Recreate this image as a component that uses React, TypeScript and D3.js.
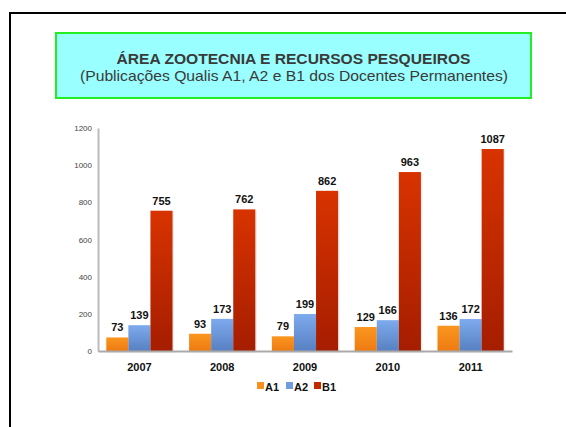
import React, { useEffect, useRef } from 'react';
import * as d3 from 'd3';

const years = ['2007', '2008', '2009', '2010', '2011'];
const seriesNames = ['A1', 'A2', 'B1'];
const a1Values = [73, 93, 79, 129, 136];
const a2Values = [139, 173, 199, 166, 172];
const b1Values = [755, 762, 862, 963, 1087];
const yTicks = [0, 200, 400, 600, 800, 1000, 1200];

const gradients = [
  { id: 'gA1', top: '#fb961f', bottom: '#ee7a12' },
  { id: 'gA2', top: '#7dabee', bottom: '#5880c2' },
  { id: 'gB1', top: '#d83300', bottom: '#a51d00' },
];
const legendColors = ['#f7901d', '#6f9ce0', '#c42a00'];

export default function App() {
  const ref = useRef<SVGSVGElement>(null);

  useEffect(() => {
    const svg = d3.select(ref.current);
    svg.selectAll('*').remove();

    const defs = svg.append('defs');
    gradients.forEach((g) => {
      const lg = defs
        .append('linearGradient')
        .attr('id', g.id)
        .attr('x1', 0)
        .attr('y1', 0)
        .attr('x2', 0)
        .attr('y2', 1);
      lg.append('stop').attr('offset', '0%').attr('stop-color', g.top);
      lg.append('stop').attr('offset', '100%').attr('stop-color', g.bottom);
    });

    // outer frame
    svg
      .append('rect')
      .attr('x', 10)
      .attr('y', 13)
      .attr('width', 700)
      .attr('height', 600)
      .attr('fill', 'none')
      .attr('stroke', '#000')
      .attr('stroke-width', 2);

    // title box
    svg
      .append('rect')
      .attr('x', 56)
      .attr('y', 33)
      .attr('width', 475)
      .attr('height', 65)
      .attr('fill', '#99ffff')
      .attr('stroke', '#22ee22')
      .attr('stroke-width', 2);

    const title = svg
      .append('g')
      .style('font-family', 'Liberation Sans, Arial, sans-serif')
      .attr('fill', '#3a3a3a')
      .attr('text-anchor', 'middle');
    title
      .append('text')
      .attr('x', 293.5)
      .attr('y', 64)
      .attr('textLength', 354)
      .attr('lengthAdjust', 'spacingAndGlyphs')
      .style('font-size', '14.5px')
      .style('font-weight', 'bold')
      .text('ÁREA ZOOTECNIA E RECURSOS PESQUEIROS');
    title
      .append('text')
      .attr('x', 294)
      .attr('y', 81)
      .attr('textLength', 428)
      .attr('lengthAdjust', 'spacingAndGlyphs')
      .style('font-size', '15px')
      .text('(Publicações Qualis A1, A2 e B1 dos Docentes Permanentes)');

    const x0 = d3.scaleBand().domain(years).range([98, 512]).paddingInner(0.2).paddingOuter(0.1);
    const x1 = d3.scaleBand().domain(seriesNames).range([0, x0.bandwidth()]);
    const y = d3.scaleLinear().domain([0, 1200]).range([351, 128]);

    const all = [a1Values, a2Values, b1Values];

    // y axis
    const yAxis = svg
      .append('g')
      .attr('transform', 'translate(98,0)')
      .call(
        d3
          .axisLeft(y)
          .tickValues(yTicks)
          .tickFormat((d) => String(d))
          .tickSize(0)
          .tickPadding(6),
      );
    yAxis.select('.domain').attr('stroke', '#bbbbbb').attr('stroke-width', 2);
    yAxis
      .selectAll('text')
      .style('font-family', 'Liberation Sans, Arial, sans-serif')
      .style('font-size', '8px')
      .attr('fill', '#444');

    // bars
    years.forEach((yr, i) => {
      const g = svg.append('g').attr('transform', `translate(${x0(yr)},0)`);
      seriesNames.forEach((s, j) => {
        const v = all[j][i];
        g.append('rect')
          .attr('x', x1(s)! + 1.5)
          .attr('y', y(v) + 1.5)
          .attr('width', x1.bandwidth())
          .attr('height', y(0) - y(v))
          .attr('fill', '#000')
          .attr('opacity', 0.08);
        g.append('rect')
          .attr('x', x1(s)!)
          .attr('y', y(v))
          .attr('width', x1.bandwidth())
          .attr('height', y(0) - y(v))
          .attr('fill', `url(#${gradients[j].id})`);
        g.append('text')
          .attr('x', x1(s)! + x1.bandwidth() / 2)
          .attr('y', y(v) - 6)
          .attr('text-anchor', 'middle')
          .style('font-family', 'Liberation Sans, Arial, sans-serif')
          .style('font-size', '11px')
          .style('font-weight', 'bold')
          .attr('fill', '#111')
          .text(v);
      });
    });

    // x axis
    const xAxis = svg
      .append('g')
      .attr('transform', `translate(0,${y(0)})`)
      .call(d3.axisBottom(x0).tickSize(0).tickPadding(12).tickSizeOuter(0));
    xAxis.select('.domain').attr('stroke', '#aaaaaa').attr('stroke-width', 2);
    xAxis
      .selectAll('text')
      .style('font-family', 'Liberation Sans, Arial, sans-serif')
      .style('font-size', '11px')
      .style('font-weight', 'bold')
      .attr('fill', '#111');

    // legend
    const legendX = [257, 286, 314];
    seriesNames.forEach((s, j) => {
      svg
        .append('rect')
        .attr('x', legendX[j])
        .attr('y', 382)
        .attr('width', 7)
        .attr('height', 7)
        .attr('fill', legendColors[j]);
      svg
        .append('text')
        .attr('x', legendX[j] + 8)
        .attr('y', 391)
        .style('font-family', 'Liberation Sans, Arial, sans-serif')
        .style('font-size', '11px')
        .style('font-weight', 'bold')
        .attr('fill', '#111')
        .text(s);
    });
  }, []);

  return (
    <svg
      ref={ref}
      width={566}
      height={427}
      style={{ position: 'absolute', left: 0, top: 0, background: '#fff' }}
    />
  );
}
